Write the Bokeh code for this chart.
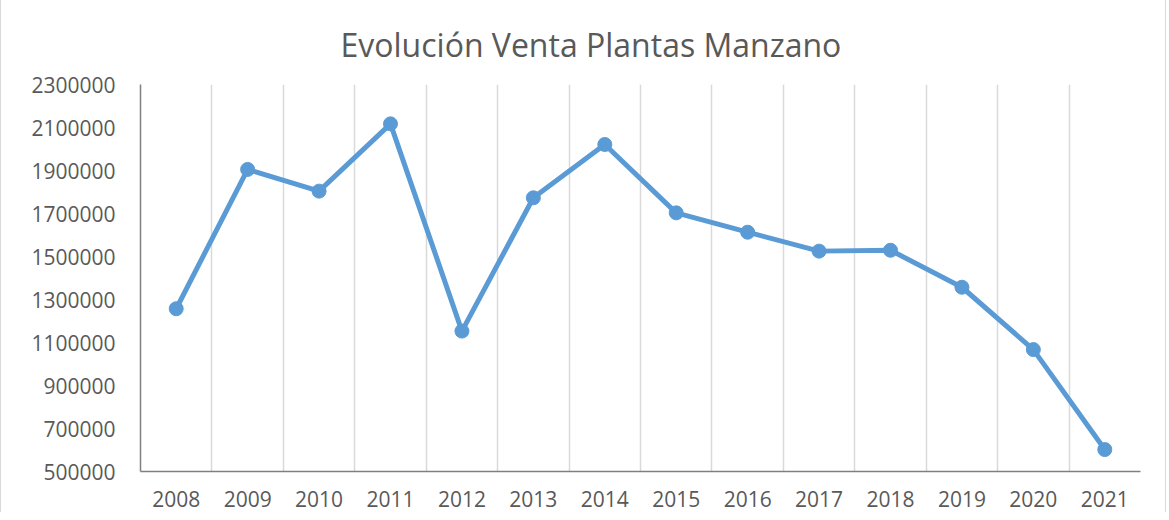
from bokeh.plotting import figure
from bokeh.models import Range1d, FixedTicker, Grid, NumeralTickFormatter, Title
from bokeh.embed import file_html
from bokeh.resources import INLINE

title_text = "Evolución Venta Plantas Manzano"
years = [2008, 2009, 2010, 2011, 2012, 2013, 2014, 2015, 2016, 2017, 2018, 2019, 2020, 2021]
ventas = [1257000, 1905000, 1804000, 2117000, 1153000, 1773000, 2021000,
          1703000, 1613000, 1525000, 1529000, 1357000, 1067000, 602000]
y_ticks = [500000, 700000, 900000, 1100000, 1300000, 1500000, 1700000, 1900000, 2100000, 2300000]

BLUE = "#5B9BD5"
TXT = "#595959"
FONT = "Open Sans"

p = figure(width=1166, height=512, output_backend="svg", toolbar_location=None,
           x_range=Range1d(years[0] - 0.5, years[-1] + 0.5),
           y_range=Range1d(y_ticks[0], y_ticks[-1]),
           min_border_left=139, min_border_right=27, min_border_top=84, min_border_bottom=41)
p.styles = {"border-left": "1px solid #d9d9d9", "border-right": "1px solid #d9d9d9"}
p.outline_line_color = None
p.background_fill_color = "white"
p.border_fill_color = "white"

t = Title(text=title_text, align="left", text_font=FONT, text_font_size="32px",
          text_font_style="normal", text_color=TXT, offset=200, standoff=38)
p.add_layout(t, "above")

p.xgrid.visible = False
p.ygrid.visible = False
vgrid = Grid(dimension=0, ticker=FixedTicker(ticks=[y + 0.5 for y in years]),
             grid_line_color="#d9d9d9", grid_line_width=1.5)
p.add_layout(vgrid)

p.xaxis.ticker = FixedTicker(ticks=years)
p.yaxis.ticker = FixedTicker(ticks=y_ticks)
p.yaxis.formatter = NumeralTickFormatter(format="0")
for ax in (p.xaxis, p.yaxis):
    ax.axis_line_color = "#7f7f7f"
    ax.axis_line_width = 1.5
    ax.major_tick_line_color = None
    ax.minor_tick_line_color = None
    ax.major_label_text_font = FONT
    ax.major_label_text_font_size = "21px"
    ax.major_label_text_color = TXT
p.yaxis.major_label_standoff = 19
p.xaxis.major_label_standoff = 13

p.line(years, ventas, line_color=BLUE, line_width=5)
p.scatter(years, ventas, size=14, fill_color=BLUE, line_color=BLUE)

open("out.html", "w").write(file_html(p, INLINE))
